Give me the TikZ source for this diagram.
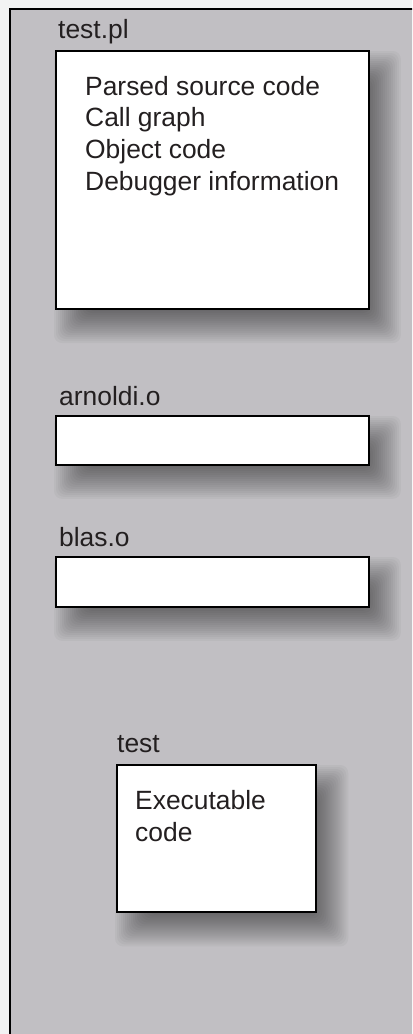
\documentclass[tikz,border=0pt]{standalone}
\usepackage{fontspec}
\setmainfont{Liberation Sans}
\usepackage{xcolor}
\usepackage{tikz}
\usetikzlibrary{backgrounds}

\definecolor{pagebg}{HTML}{F2F3F3}
\definecolor{panelgray}{HTML}{C1BFC3}
\definecolor{inkgray}{HTML}{231F20}

% soft shadow behind a node, built from stacked translucent layers
\newcommand{\softshadow}[1]{%
	\foreach \i in {-16,-14,...,16}{
		\fill[black,opacity=0.03,rounded corners=8bp]
		([xshift=15bp-\i bp,yshift=-17bp+\i bp]#1.north west) rectangle
		([xshift=15bp+\i bp,yshift=-17bp-\i bp]#1.south east);
	}}

\begin{document}
\begin{tikzpicture}[x=1bp,y=1bp,
	objbox/.style={draw=black,line width=2bp,fill=white,anchor=north west,inner sep=0pt},
	lbl/.style={anchor=base west,inner sep=0pt,text=inkgray,align=left,
		font=\fontsize{26.5}{31.7}\selectfont}]
	\useasboundingbox (0,0) rectangle (412,-1034);
	
	% test.pl
	\node[objbox,minimum width=314,minimum height=259] (testpl) at (55,-50) {};
	\node[lbl] (testpllbl) at (58,-38) {test.pl};
	\node[lbl] (testpltxt) at (85,-190) {Parsed source code\\Call graph\\Object code\\Debugger information};
	
	% arnoldi.o
	\node[objbox,minimum width=314,minimum height=49] (arnoldi) at (55,-415) {};
	\node[lbl] (arnoldilbl) at (59,-405) {arnoldi.o};
	
	% blas.o
	\node[objbox,minimum width=314,minimum height=50] (blas) at (55,-556) {};
	\node[lbl] (blaslbl) at (59,-546) {blas.o};
	
	% test
	\node[objbox,minimum width=200,minimum height=148] (test) at (116,-764) {};
	\node[lbl] (testlbl) at (117,-752) {test};
	\node[lbl] (testtxt) at (135,-841) {Executable\\code};
	
	\begin{scope}[on background layer]
		\clip (0,0) rectangle (412,-1034);
		\fill[pagebg] (0,0) rectangle (412,-1034);
		\draw[fill=panelgray,line width=2bp] (10,-9) rectangle (440,-1060);
		\softshadow{testpl}
		\softshadow{arnoldi}
		\softshadow{blas}
		\softshadow{test}
	\end{scope}
\end{tikzpicture}
\end{document}
